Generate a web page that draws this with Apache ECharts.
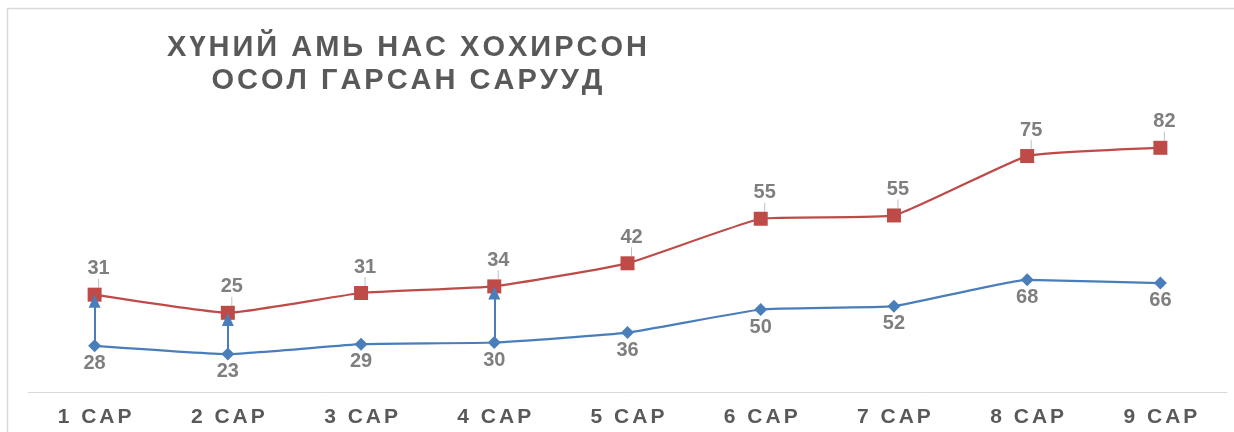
<!DOCTYPE html>
<html lang="en">
<head>
    <meta charset="UTF-8">
    <title>Осол гарсан сарууд</title>
    <script src="https://cdn.jsdelivr.net/npm/echarts@6/dist/echarts.min.js"></script>
    <style>
        *{
            margin: 0;
            padding: 0;
        }
        html,body{
            width: 100%;
            height: 100%;
            background: #fff;
        }
        .container{
            width: 1234px;
            height: 432px;
        }
    </style>
</head>
<body>
<div class="container"></div>
<script>
    // data
    let months = ['1 САР','2 САР','3 САР','4 САР','5 САР','6 САР','7 САР','8 САР','9 САР'];
    let blueValues = [28, 23, 29, 30, 36, 50, 52, 68, 66];
    let redValues = [31, 25, 31, 34, 42, 55, 55, 75, 82];
    let arrowMonths = ['1 САР','2 САР','4 САР'];
    let titleLines = ['ХҮНИЙ АМЬ НАС ХОХИРСОН', 'ОСОЛ ГАРСАН САРУУД'];

    let font = '"Liberation Sans", Arial, sans-serif';
    let container = document.querySelector('.container');
    let chart = echarts.init(container);

    // spaced letters, like the excel text
    function spaced(str, style){
        return str.split('').map(ch => '{' + style + '|' + ch + '}').join('');
    }

    // arrows from the blue point up to the red (stacked) point
    let arrows = arrowMonths.map(m => {
        let i = months.indexOf(m);
        return [
            {coord: [m, blueValues[i]], symbol: 'none'},
            {coord: [m, blueValues[i] + redValues[i] - 4], symbol: 'triangle'}
        ];
    });

    let option = {
        animation: false,
        backgroundColor: '#fff',
        graphic: [
            {
                type: 'rect',
                silent: true,
                shape: {x: 7.5, y: 8.5, width: 1400, height: 600},
                style: {fill: 'none', stroke: '#d9d9d9', lineWidth: 1.5}
            },
            {
                type: 'text',
                x: 407,
                y: 31,
                silent: true,
                style: {
                    text: titleLines.map(l => spaced(l, 't')).join('\n'),
                    align: 'center',
                    verticalAlign: 'top',
                    rich: {
                        t: {
                            fontFamily: font,
                            fontWeight: 'bold',
                            fontSize: 29,
                            lineHeight: 33,
                            fill: '#595959',
                            padding: [0, 1.5, 0, 1.5]
                        }
                    }
                }
            }
        ],
        grid: {
            left: 28,
            right: 7,
            top: 128,
            bottom: 40
        },
        xAxis: {
            type: 'category',
            data: months,
            boundaryGap: true,
            axisTick: {show: false},
            axisLine: {lineStyle: {color: '#d9d9d9', width: 1}},
            axisLabel: {
                interval: 0,
                margin: 15,
                fontSize: 21,
                formatter: v => spaced(v, 'c'),
                rich: {
                    c: {
                        fontFamily: font,
                        fontWeight: 'bold',
                        fontSize: 21,
                        color: '#595959',
                        padding: [0, 1.5, 0, 1.5]
                    }
                }
            }
        },
        yAxis: {
            type: 'value',
            min: 0,
            max: 160,
            show: false,
            splitLine: {show: false}
        },
        series: [
            {
                name: 'blue',
                type: 'line',
                stack: 'total',
                data: blueValues,
                smooth: 0.12,
                symbol: 'diamond',
                symbolSize: 13,
                itemStyle: {color: '#4a7ebb'},
                lineStyle: {color: '#4a7ebb', width: 2.25},
                label: {
                    show: true,
                    position: 'bottom',
                    distance: 1,
                    fontFamily: font,
                    fontWeight: 'bold',
                    fontSize: 20,
                    color: '#7f7f7f'
                },
                markLine: {
                    silent: true,
                    symbolSize: [12, 13],
                    label: {show: false},
                    lineStyle: {color: '#4a7ebb', width: 2, type: 'solid'},
                    emphasis: {disabled: true},
                    data: arrows
                },
                z: 3
            },
            {
                name: 'red',
                type: 'line',
                stack: 'total',
                data: redValues,
                smooth: 0.12,
                symbol: 'rect',
                symbolSize: 14,
                itemStyle: {color: '#be4b48'},
                lineStyle: {color: '#be4b48', width: 2.25},
                label: {
                    show: true,
                    position: 'top',
                    distance: 9,
                    fontFamily: font,
                    fontWeight: 'bold',
                    fontSize: 20,
                    color: '#7f7f7f'
                },
                labelLayout: {dx: 4},
                labelLine: {
                    show: true,
                    lineStyle: {color: '#bfbfbf', width: 1}
                },
                z: 4
            }
        ]
    };
    chart.setOption(option);
</script>
</body>
</html>
